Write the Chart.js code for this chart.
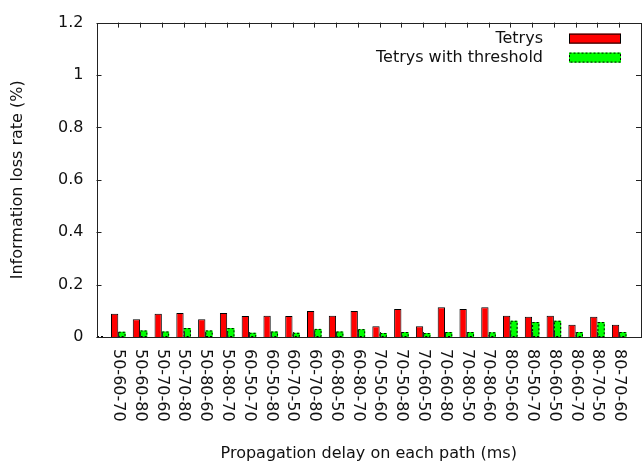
<!DOCTYPE html>
<html>
<head>
<meta charset="utf-8">
<script src="https://cdn.jsdelivr.net/npm/chart.js@4"></script>
<style>
  html, body { margin: 0; padding: 0; background: #fff; }
</style>
</head>
<body>
<canvas id="myChart" width="642" height="465"></canvas>
<script>
const categories = ['50-60-70', '50-60-80', '50-70-60', '50-70-80', '50-80-60', '50-80-70',
  '60-50-70', '60-50-80', '60-70-50', '60-70-80', '60-80-50', '60-80-70',
  '70-50-60', '70-50-80', '70-60-50', '70-60-80', '70-80-50', '70-80-60',
  '80-50-60', '80-50-70', '80-60-50', '80-60-70', '80-70-50', '80-70-60'];
const tetrys = [0.089, 0.068, 0.089, 0.092, 0.068, 0.092, 0.080, 0.081, 0.080, 0.099, 0.081, 0.099,
  0.041, 0.107, 0.041, 0.114, 0.107, 0.114, 0.081, 0.077, 0.081, 0.047, 0.077, 0.047];
const tetrysThreshold = [0.020, 0.025, 0.021, 0.034, 0.025, 0.034, 0.016, 0.021, 0.016, 0.031, 0.021, 0.030,
  0.015, 0.019, 0.015, 0.019, 0.019, 0.018, 0.062, 0.057, 0.062, 0.019, 0.057, 0.019];
const yTicks = [0, 0.2, 0.4, 0.6, 0.8, 1, 1.2];

const FONT = 'DejaVu Sans';
const ctx = document.getElementById('myChart');

// one empty slot at each end so the bars sit a full step away from the frame
const paddedLabels = [''].concat(categories, ['']);
const pad = arr => [null].concat(arr, [null]);

const framePlugin = {
  id: 'frame',
  afterDatasetsDraw(chart) {
    const c = chart.ctx;
    const a = chart.chartArea;
    const xs = chart.scales.x;
    const ys = chart.scales.y;

    // dashed outline on the green bars
    c.save();
    c.strokeStyle = '#000';
    c.lineWidth = 1;
    c.setLineDash([2, 2]);
    chart.getDatasetMeta(1).data.forEach(bar => {
      if (bar.skip) return;
      const p = bar.getProps(['x', 'y', 'base', 'width'], true);
      if (isNaN(p.y)) return;
      c.strokeRect(p.x - p.width / 2 + 0.5, p.y + 0.5, p.width - 1, p.base - p.y - 1);
    });
    c.restore();

    // border and inward tics
    c.save();
    c.strokeStyle = '#222';
    c.lineWidth = 1;
    c.strokeRect(Math.round(a.left) + 0.5, Math.round(a.top) + 0.5,
      Math.round(a.right - a.left) - 1, Math.round(a.bottom - a.top));
    c.beginPath();
    yTicks.forEach(v => {
      const y = Math.round(ys.getPixelForValue(v)) + 0.5;
      c.moveTo(a.left, y); c.lineTo(a.left + 5, y);
      c.moveTo(a.right, y); c.lineTo(a.right - 5, y);
    });
    categories.forEach((cat, i) => {
      const x = Math.round(xs.getPixelForValue(i + 1)) + 0.5;
      c.moveTo(x, a.top); c.lineTo(x, a.top + 5);
      c.moveTo(x, a.bottom); c.lineTo(x, a.bottom - 5);
    });
    c.stroke();

    // category labels, turned clockwise
    c.fillStyle = '#111';
    c.font = '16px "' + FONT + '"';
    c.textAlign = 'left';
    c.textBaseline = 'middle';
    categories.forEach((cat, i) => {
      const x = xs.getPixelForValue(i + 1);
      c.save();
      c.translate(x, a.bottom + 12);
      c.rotate(Math.PI / 2);
      c.fillText(cat, 0, 0);
      c.restore();
    });

    // legend, text left of the swatch
    chart.data.datasets.forEach((ds, i) => {
      const cy = a.top + 16 + i * 19;
      c.textAlign = 'right';
      c.fillText(ds.label, 543, cy);
      c.fillStyle = ds.backgroundColor;
      c.fillRect(569, cy - 5, 52, 10);
      c.setLineDash(i === 1 ? [2, 2] : []);
      c.strokeStyle = '#000';
      c.strokeRect(569.5, cy - 4.5, 51, 9);
      c.setLineDash([]);
      c.fillStyle = '#111';
    });
    c.restore();
  }
};

new Chart(ctx, {
  type: 'bar',
  data: {
    labels: paddedLabels,
    datasets: [{
      label: 'Tetrys',
      data: pad(tetrys),
      backgroundColor: '#ff0000',
      borderColor: '#000',
      borderWidth: 1,
      categoryPercentage: 0.67,
      barPercentage: 1.0
    }, {
      label: 'Tetrys with threshold',
      data: pad(tetrysThreshold),
      backgroundColor: '#00ff00',
      borderWidth: 0,
      categoryPercentage: 0.67,
      barPercentage: 1.0
    }]
  },
  options: {
    responsive: false,
    animation: false,
    layout: { padding: { top: 19, right: 1, left: 0, bottom: 0 } },
    plugins: { legend: { display: false }, tooltip: { enabled: false } },
    scales: {
      x: {
        type: 'category',
        offset: false,
        grid: { display: false, drawTicks: false },
        border: { display: false },
        ticks: { display: false },
        title: {
          display: true,
          text: 'Propagation delay on each path (ms)',
          color: '#111',
          font: { family: FONT, size: 16 },
          padding: { top: 0, bottom: 1.5 }
        },
        afterFit(scale) { scale.height = 128; }
      },
      y: {
        min: 0,
        max: 1.2,
        grid: { display: false, drawTicks: false },
        border: { display: false },
        ticks: {
          stepSize: 0.2,
          padding: 13,
          color: '#111',
          font: { family: FONT, size: 16 },
          callback: v => String(+v.toFixed(1))
        },
        title: {
          display: true,
          text: 'Information loss rate (%)',
          color: '#111',
          font: { family: FONT, size: 16 },
          padding: { top: 8, bottom: 0 }
        },
        afterFit(scale) { scale.width = 96.5; }
      }
    }
  },
  plugins: [framePlugin]
});
</script>
</body>
</html>
